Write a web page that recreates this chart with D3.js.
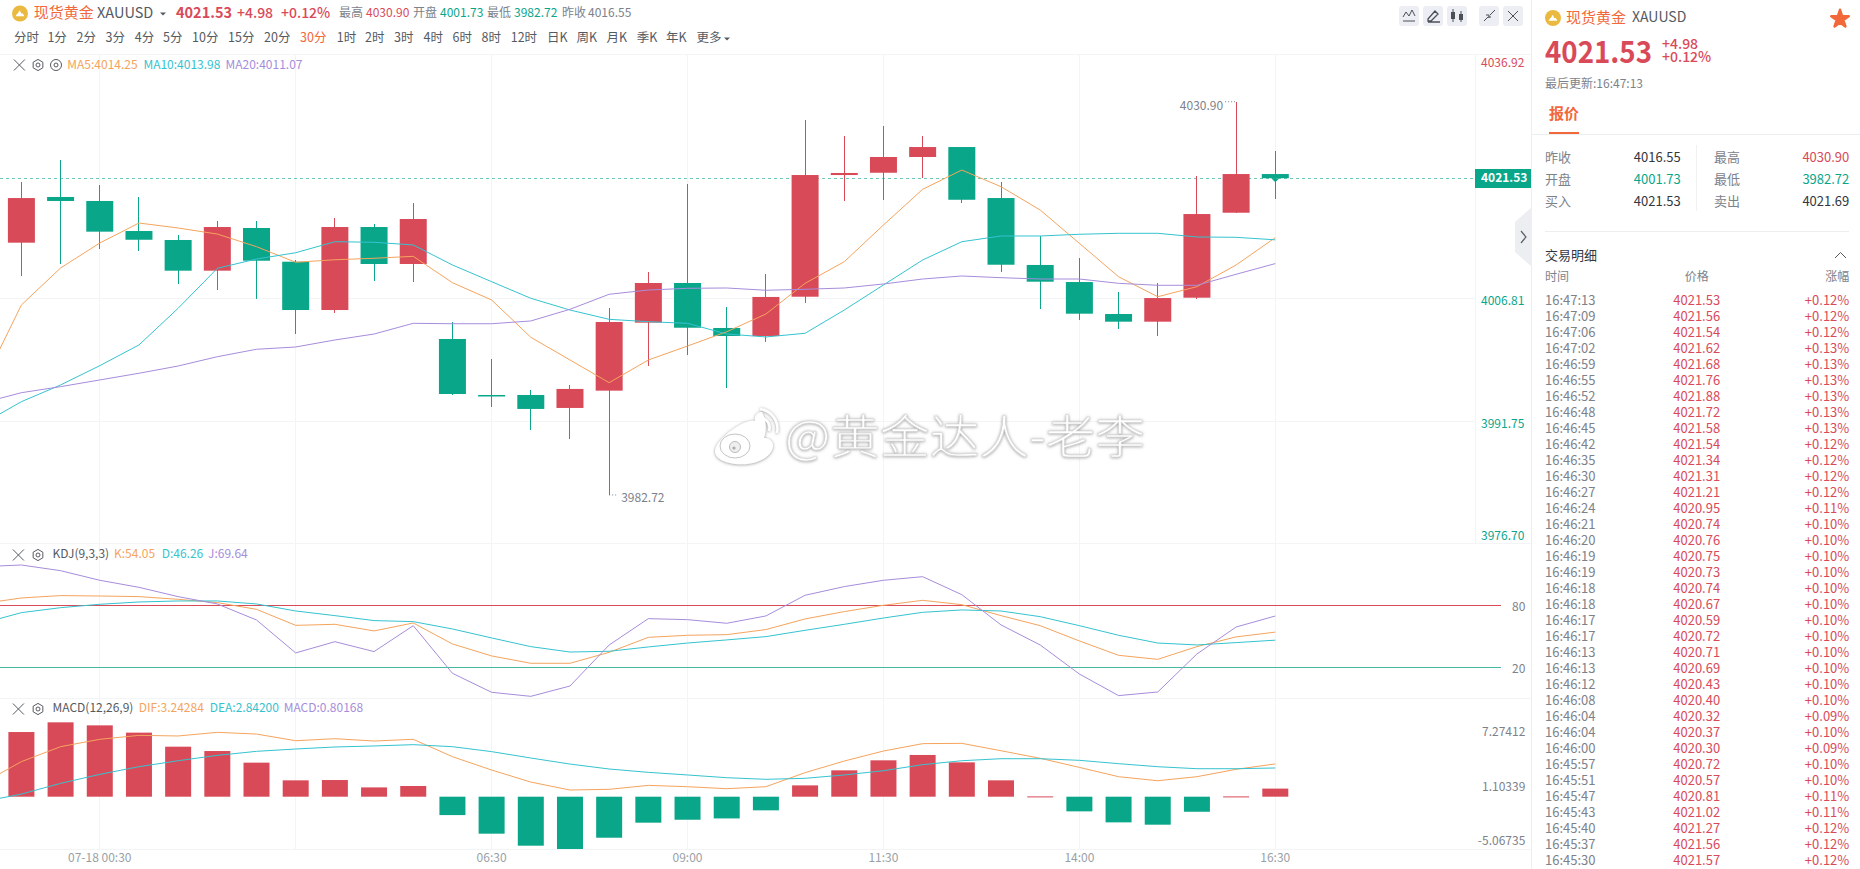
<!DOCTYPE html>
<html>
<head>
<meta charset="utf-8">
<script src="https://cdn.jsdelivr.net/npm/d3@7"></script>
<style>
  html, body { margin: 0; padding: 0; background: #fff; overflow: hidden; }
  text { font-family: "Noto Sans CJK SC", "Noto Sans", sans-serif; }
</style>
</head>
<body>
<script>
// candles, 30 min bars
var opens  = [4013.63,4019.23,4018.74,4015.06,4013.96,4010.20,4015.43,4011.30,4005.38,4015.55,4011.02,4001.83,3994.97,3994.97,3993.38,3995.50,4003.83,4008.69,4003.18,4002.20,4007.01,4021.92,4022.20,4024.13,4025.35,4019.10,4010.90,4008.81,4004.89,4003.95,4006.89,4017.30,4022.04];
var closes = [4019.10,4018.74,4014.98,4013.99,4010.20,4015.55,4011.42,4005.38,4015.55,4011.02,4016.53,3995.09,3994.79,3993.26,3995.71,4003.91,4008.69,4003.21,4002.20,4006.98,4021.92,4022.17,4024.13,4025.35,4018.89,4010.93,4008.85,4004.93,4003.95,4006.85,4017.14,4022.04,4021.53];
var highs  = [4021.03,4023.76,4020.66,4019.23,4014.61,4016.32,4016.32,4011.51,4016.62,4015.92,4018.53,4003.95,3999.38,3995.58,3996.20,4005.59,4010.04,4020.82,4005.79,4009.79,4028.66,4026.70,4027.92,4026.70,4025.35,4021.06,4014.45,4011.75,4007.59,4008.73,4021.80,4030.90,4024.86];
var lows   = [4009.55,4011.02,4012.86,4012.65,4008.57,4007.83,4006.77,4002.44,4005.05,4008.97,4008.85,3994.97,3993.54,3990.68,3989.62,3982.72,3998.52,3999.87,3995.86,4001.50,4006.28,4018.77,4018.86,4021.52,4018.53,4010.04,4005.51,4004.16,4003.02,4002.20,4006.73,4017.30,4019.02];

// the line arrays start one bar before the first candle (off screen)
var ma5  = [3996.20,4006.00,4010.53,4013.59,4016.04,4015.43,4014.69,4013.14,4011.23,4011.54,4011.72,4011.96,4008.73,4006.61,4002.04,3999.26,3996.48,3999.26,4000.97,4002.72,4004.89,4008.65,4011.30,4015.80,4020.17,4022.53,4020.49,4017.63,4013.55,4009.46,4007.01,4008.24,4010.90,4014.25];
var ma10 = [3991.42,3994.15,3996.20,3998.56,4001.10,4005.59,4010.49,4011.63,4012.40,4013.75,4013.68,4013.35,4010.90,4008.85,4006.82,4005.38,4004.24,4003.95,4003.75,4002.44,4002.08,4002.53,4005.38,4008.45,4011.51,4013.75,4014.45,4014.45,4014.66,4014.78,4014.78,4014.33,4014.29,4013.98];
var ma20 = [3993.99,3995.25,3995.99,3996.81,3997.63,3998.52,3999.66,4000.57,4000.85,4001.71,4002.44,4003.75,4003.70,4003.70,4004.04,4005.47,4007.31,4007.83,4008.04,4008.08,4007.80,4007.92,4008.08,4008.57,4009.18,4009.55,4009.34,4009.18,4009.18,4008.65,4008.41,4008.41,4009.76,4011.07];

var kLine = [81.6,87.1,89.4,89.0,88.4,85.8,82.6,76.1,60.6,61.6,55.2,62.9,42.6,31.0,23.9,23.9,34.5,49.0,51.0,51.6,56.5,66.8,73.9,80.0,84.8,80.6,70.0,60.3,45.5,31.6,27.7,40.0,49.4,54.05];
var dLine = [62.6,72.9,77.7,81.0,83.2,84.2,84.2,81.3,74.5,70.0,65.2,64.2,57.1,48.4,40.0,34.8,35.5,39.7,43.5,46.5,49.7,55.8,61.6,67.7,73.2,75.5,74.5,69.0,60.3,51.0,43.5,41.6,43.9,46.26];
var jLine = [117.4,119.0,113.5,104.2,97.4,88.4,81.3,65.8,33.9,44.8,35.2,60.3,14.2,-4.2,-8.1,1.9,41.6,67.1,66.1,62.6,69.7,89.7,98.1,104.2,107.7,90.3,61.0,41.6,13.5,-7.4,-3.9,32.9,59.0,69.64];

var macdBars = [6.40,7.36,7.06,6.34,4.95,4.52,3.37,1.62,1.65,0.92,1.06,-1.82,-3.66,-4.85,-5.18,-4.06,-2.57,-2.28,-2.15,-1.35,1.12,2.61,3.60,4.13,3.40,1.62,0.03,-1.45,-2.54,-2.77,-1.49,0.03,0.80168];
var dif = [1.32,3.47,4.95,5.68,6.07,6.01,6.37,6.20,5.54,5.74,5.51,5.68,3.96,2.64,1.45,0.66,0.73,1.12,0.99,0.79,0.99,2.38,3.53,4.52,5.25,5.28,4.55,3.80,2.90,1.98,1.58,1.98,2.71,3.24284];
var dea = [-0.50,0.26,1.32,2.21,2.97,3.56,4.09,4.49,4.72,4.92,5.02,5.15,4.95,4.46,3.83,3.23,2.74,2.41,2.15,1.88,1.72,1.82,2.15,2.57,3.17,3.56,3.76,3.76,3.60,3.27,2.97,2.77,2.77,2.842];

var priceTicks = [4036.92,4006.81,3991.75,3976.70];
var macdTicks = [7.27412,1.10339,-5.06735];
var kdjTicks = [80,20];
var timeIdx = [2,12,17,22,27,32];
var timeLabels = ["07-18 00:30","06:30","09:00","11:30","14:00","16:30"];
var gridIdx = [2,7,12,17,22,27,32];
var periods = ["分时","1分","2分","3分","4分","5分","10分","15分","20分","30分","1时","2时","3时","4时","6时","8时","12时","日K","周K","月K","季K","年K","更多"];
var periodX = [14,47.4,76.5,105.6,134.7,163,192,228,264,300,336.7,365,394,423.5,452.5,481.6,510.7,547,576.5,606.6,636.7,666,696.4];

var tickTimes = ["16:47:13","16:47:09","16:47:06","16:47:02","16:46:59","16:46:55","16:46:52","16:46:48","16:46:45","16:46:42","16:46:35","16:46:30","16:46:27","16:46:24","16:46:21","16:46:20","16:46:19","16:46:19","16:46:18","16:46:18","16:46:17","16:46:17","16:46:13","16:46:13","16:46:12","16:46:08","16:46:04","16:46:04","16:46:00","16:45:57","16:45:51","16:45:47","16:45:43","16:45:40","16:45:37","16:45:30"];
var tickPrices = ["4021.53","4021.56","4021.54","4021.62","4021.68","4021.76","4021.88","4021.72","4021.58","4021.54","4021.34","4021.31","4021.21","4020.95","4020.74","4020.76","4020.75","4020.73","4020.74","4020.67","4020.59","4020.72","4020.71","4020.69","4020.43","4020.40","4020.32","4020.37","4020.30","4020.72","4020.57","4020.81","4021.02","4021.27","4021.56","4021.57"];
var tickPcts = ["+0.12%","+0.12%","+0.12%","+0.13%","+0.13%","+0.13%","+0.13%","+0.13%","+0.13%","+0.12%","+0.12%","+0.12%","+0.12%","+0.11%","+0.10%","+0.10%","+0.10%","+0.10%","+0.10%","+0.10%","+0.10%","+0.10%","+0.10%","+0.10%","+0.10%","+0.10%","+0.09%","+0.10%","+0.09%","+0.10%","+0.10%","+0.11%","+0.11%","+0.12%","+0.12%","+0.12%"];

var RED = "#d94a59", GREEN = "#0aa68a", ORANGE = "#f5a45d", CYAN = "#35c3cf", PURPLE = "#a68ddb",
    GREY = "#7d828a", DARK = "#33373d", ACCENT = "#f2683a", GRID = "#f3f4f6";

var svg = d3.select("body").append("svg")
    .attr("width", 1860)
    .attr("height", 869)
    .style("display", "block");

var defs = svg.append("defs");
defs.append("clipPath").attr("id", "plot").append("rect")
    .attr("x", 0).attr("y", 54).attr("width", 1475).attr("height", 795);
var wm = defs.append("filter").attr("id", "wm").attr("x", "-10%").attr("y", "-20%").attr("width", "120%").attr("height", "140%");
wm.append("feDropShadow").attr("dx", 0).attr("dy", 0.5).attr("stdDeviation", 1.6)
    .attr("flood-color", "#777").attr("flood-opacity", 0.8);

// scales
var x = d3.scaleLinear().domain([0, 32]).range([21.4, 1275.3]);
var y = d3.scaleLinear().domain([3976.70, 4036.92]).range([544.1, 52.6]);
var yKdj = d3.scaleLinear().domain([20, 80]).range([667.3, 605.3]);
var yMacd = d3.scaleLinear().domain([-5.06735, 7.27412]).range([847.9, 723.2]);

function label(g, px, py, txt, size, color, anchor, weight) {
    return g.append("text")
        .attr("x", px).attr("y", py)
        .attr("dy", "0.35em")
        .attr("font-size", size)
        .attr("fill", color)
        .attr("text-anchor", anchor || "start")
        .attr("font-weight", weight || 400)
        .text(txt);
}

// grid and pane borders
var grid = svg.append("g").attr("stroke", GRID).attr("stroke-width", 1).attr("shape-rendering", "crispEdges");
grid.selectAll("line.v").data(gridIdx).enter().append("line")
    .attr("class", "v")
    .attr("x1", function(d) { return x(d); }).attr("x2", function(d) { return x(d); })
    .attr("y1", 54).attr("y2", 849);
[54.3, 543.3, 698.3, 849.3].forEach(function(py) {
    grid.append("line").attr("x1", 0).attr("x2", 1531).attr("y1", py).attr("y2", py);
});
[4006.81, 3991.75].forEach(function(v) {
    grid.append("line").attr("x1", 0).attr("x2", 1475).attr("y1", y(v)).attr("y2", y(v));
});
grid.append("line").attr("x1", 1475).attr("x2", 1475).attr("y1", 54).attr("y2", 543);

var plot = svg.append("g").attr("clip-path", "url(#plot)");

// current price dashed line
plot.append("line")
    .attr("x1", 0).attr("x2", 1475)
    .attr("y1", y(4021.53)).attr("y2", y(4021.53))
    .attr("stroke", GREEN).attr("stroke-opacity", 0.6)
    .attr("stroke-dasharray", "3,3")
    .attr("shape-rendering", "crispEdges");

// candles
var candles = plot.selectAll("g.candle").data(opens).enter().append("g").attr("class", "candle");
function candleColor(i) { return closes[i] >= opens[i] ? RED : GREEN; }
candles.append("line")
    .attr("x1", function(d, i) { return x(i); }).attr("x2", function(d, i) { return x(i); })
    .attr("y1", function(d, i) { return y(highs[i]); })
    .attr("y2", function(d, i) { return y(lows[i]); })
    .attr("stroke", function(d, i) { return candleColor(i); })
    .attr("shape-rendering", "crispEdges");
candles.append("rect")
    .attr("x", function(d, i) { return x(i) - 13.5; })
    .attr("width", 27)
    .attr("y", function(d, i) { return y(Math.max(opens[i], closes[i])); })
    .attr("height", function(d, i) { return Math.max(1.5, Math.abs(y(opens[i]) - y(closes[i]))); })
    .attr("fill", function(d, i) { return candleColor(i); });

// tiny price notch under the last candle
plot.append("path")
    .attr("d", d3.line()([[x(32) - 4, y(4021.53)], [x(32) + 4, y(4021.53)], [x(32), y(4021.53) + 4]]))
    .attr("fill", GREEN);

// lines are drawn from index -1
function drawLine(g, values, scale, color) {
    var line = d3.line()
        .x(function(d, i) { return x(i - 1); })
        .y(function(d) { return scale(d); });
    g.append("path")
        .attr("d", line(values))
        .attr("fill", "none")
        .attr("stroke", color)
        .attr("stroke-width", 1);
}
drawLine(plot, ma5, y, ORANGE);
drawLine(plot, ma10, y, CYAN);
drawLine(plot, ma20, y, PURPLE);

// high / low markers
plot.append("line").attr("x1", x(31) - 11).attr("x2", x(31)).attr("y1", y(4030.90)).attr("y2", y(4030.90))
    .attr("stroke", GREY).attr("stroke-dasharray", "1,2");
label(svg, x(31) - 13, y(4030.90) + 4, "4030.90", 12, GREY, "end");
plot.append("line").attr("x1", x(15)).attr("x2", x(15) + 9).attr("y1", y(3982.72)).attr("y2", y(3982.72))
    .attr("stroke", GREY).attr("stroke-dasharray", "1,2");
label(svg, x(15) + 12, y(3982.72) + 3, "3982.72", 12, GREY);

// KDJ pane
[[80, RED], [20, "#45b9a1"]].forEach(function(d) {
    plot.append("line").attr("x1", 0).attr("x2", 1475).attr("y1", yKdj(d[0])).attr("y2", yKdj(d[0]))
        .attr("stroke", d[1]).attr("shape-rendering", "crispEdges");
    svg.append("line").attr("x1", 1475).attr("x2", 1501).attr("y1", yKdj(d[0])).attr("y2", yKdj(d[0]))
        .attr("stroke", d[1]).attr("shape-rendering", "crispEdges");
});
drawLine(plot, kLine, yKdj, ORANGE);
drawLine(plot, dLine, yKdj, CYAN);
drawLine(plot, jLine, yKdj, PURPLE);

// MACD pane
plot.selectAll("rect.macd").data(macdBars).enter().append("rect")
    .attr("class", "macd")
    .attr("x", function(d, i) { return x(i) - 13; })
    .attr("width", 26)
    .attr("y", function(d) { return yMacd(Math.max(d, 0)); })
    .attr("height", function(d) { return Math.max(1, Math.abs(yMacd(d) - yMacd(0))); })
    .attr("fill", function(d) { return d >= 0 ? RED : GREEN; });
drawLine(plot, dif, yMacd, ORANGE);
drawLine(plot, dea, yMacd, CYAN);

// right side axis labels
priceTicks.forEach(function(v) {
    var py = Math.min(535.7, Math.max(62.7, y(v) + 2.4));
    label(svg, 1481, py, v.toFixed(2), 12, v > 4021.53 ? RED : GREEN);
});
svg.append("rect").attr("x", 1475).attr("y", 169).attr("width", 56).attr("height", 19).attr("fill", GREEN);
label(svg, 1481, y(4021.53), "4021.53", 12, "#fff", "start", 700);
kdjTicks.forEach(function(v) {
    label(svg, 1525.3, yKdj(v) + 1.3, v, 12, GREY, "end");
});
var macdOffsets = [8.5, 1.1, -7.2];
macdTicks.forEach(function(v, i) {
    label(svg, 1525.3, yMacd(v) + macdOffsets[i], v.toFixed(5), 12, GREY, "end");
});

// time axis
timeIdx.forEach(function(d, i) {
    label(svg, x(d), 858, timeLabels[i], 12, "#9a9fa6", "middle");
});

// little icons
function closeIcon(cx, cy, r) {
    svg.append("path")
        .attr("d", "M" + (cx - r) + "," + (cy - r) + "L" + (cx + r) + "," + (cy + r) + "M" + (cx - r) + "," + (cy + r) + "L" + (cx + r) + "," + (cy - r))
        .attr("stroke", "#555a61").attr("fill", "none");
}
function gearIcon(cx, cy) {
    var hex = d3.range(6).map(function(k) {
        var a = Math.PI / 3 * k + Math.PI / 6;
        return [cx + 5.6 * Math.cos(a), cy + 5.6 * Math.sin(a)];
    });
    svg.append("path").attr("d", d3.line()(hex) + "Z").attr("fill", "none").attr("stroke", "#555a61");
    svg.append("circle").attr("cx", cx).attr("cy", cy).attr("r", 2).attr("fill", "none").attr("stroke", "#555a61");
}
function eyeIcon(cx, cy) {
    svg.append("circle").attr("cx", cx).attr("cy", cy).attr("r", 5.5).attr("fill", "none").attr("stroke", "#555a61");
    svg.append("circle").attr("cx", cx).attr("cy", cy).attr("r", 2).attr("fill", "none").attr("stroke", "#555a61");
}
function goldIcon(cx, cy, r) {
    svg.append("circle").attr("cx", cx).attr("cy", cy).attr("r", r).attr("fill", "#eab93f");
    svg.append("path")
        .attr("d", "M" + (cx - r * 0.55) + "," + (cy + r * 0.35) + "h" + (r * 1.1) + "l-" + (r * 0.2) + ",-" + (r * 0.35) + "h-" + (r * 0.2) + "l-" + (r * 0.15) + ",-" + (r * 0.35) + "h-" + (r * 0.1) + "l-" + (r * 0.15) + "," + (r * 0.35) + "h-" + (r * 0.1) + "z")
        .attr("fill", "#fff");
}
function caret(cx, cy, color) {
    svg.append("path").attr("d", d3.line()([[cx - 3, cy - 1.5], [cx + 3, cy - 1.5], [cx, cy + 1.5]])).attr("fill", color);
}

// top header
goldIcon(20, 13.5, 8);
label(svg, 33.7, 13, "现货黄金", 15, ACCENT);
label(svg, 97, 13, "XAUUSD", 14.5, "#555a61");
caret(163, 14, "#555a61");
label(svg, 176, 13, "4021.53", 14.5, RED, "start", 700);
label(svg, 237, 13, "+4.98", 14, RED, "start", 500);
label(svg, 281, 13, "+0.12%", 14, RED, "start", 500);
var headStats = [["最高", 339, "4030.90", 366, RED], ["开盘", 413, "4001.73", 440, GREEN], ["最低", 487, "3982.72", 514, GREEN], ["昨收", 562, "4016.55", 588, GREY]];
headStats.forEach(function(d) {
    label(svg, d[1], 13, d[0], 12, GREY);
    label(svg, d[3], 13, d[2], 12, d[4]);
});

// period row
periods.forEach(function(p, i) {
    label(svg, periodX[i], 37.3, p, 12.5, p === "30分" ? ACCENT : "#555a61");
});
caret(727, 39, "#555a61");

// legends
closeIcon(19.4, 65, 5.5); gearIcon(38, 65); eyeIcon(56, 65);
label(svg, 67.3, 64.7, "MA5:4014.25", 12, ORANGE);
label(svg, 143.4, 64.7, "MA10:4013.98", 12, CYAN);
label(svg, 225.5, 64.7, "MA20:4011.07", 12, PURPLE);

closeIcon(18.4, 555, 5.5); gearIcon(38, 555);
label(svg, 52.5, 554, "KDJ(9,3,3)", 12, "#555a61");
label(svg, 114, 554, "K:54.05", 12, ORANGE);
label(svg, 161.7, 554, "D:46.26", 12, CYAN);
label(svg, 208, 554, "J:69.64", 12, PURPLE);

closeIcon(18.4, 709, 5.5); gearIcon(38, 709);
label(svg, 52.5, 707.7, "MACD(12,26,9)", 12, "#555a61");
label(svg, 138.8, 707.7, "DIF:3.24284", 12, ORANGE);
label(svg, 209.7, 707.7, "DEA:2.84200", 12, CYAN);
label(svg, 283.7, 707.7, "MACD:0.80168", 12, PURPLE);

// toolbar buttons
[1399, 1423, 1447, 1479, 1503].forEach(function(bx) {
    svg.append("rect").attr("x", bx).attr("y", 6).attr("width", 20).attr("height", 20).attr("rx", 3).attr("fill", "#eceef3");
});
svg.append("path").attr("d", "M1403,17l3,-5l3,4l3,-6l3,6M1403,21h12").attr("fill", "none").attr("stroke", "#4b5058");
svg.append("path").attr("d", "M1428,19l7,-8l3,3l-7,7h-3zM1428,22h12").attr("fill", "none").attr("stroke", "#4b5058").attr("stroke-width", 1.3);
svg.append("path").attr("d", "M1453,9v13M1461,11v11").attr("stroke", "#4b5058");
svg.append("rect").attr("x", 1451).attr("y", 12).attr("width", 4).attr("height", 7).attr("fill", "#4b5058");
svg.append("rect").attr("x", 1459).attr("y", 14).attr("width", 4).attr("height", 6).attr("fill", "#4b5058");
svg.append("path").attr("d", "M1484,21l4,-4M1490,15l5,-5M1486,15h3v3M1491,17h-3").attr("fill", "none").attr("stroke", "#4b5058");
svg.append("path").attr("d", "M1508,11l10,10M1508,21l10,-10").attr("stroke", "#4b5058");

// collapse tab
svg.append("path").attr("d", "M1532,207L1515,222V252L1532,267Z").attr("fill", "#eceef2");
svg.append("path").attr("d", "M1521,231l5,6l-5,6").attr("fill", "none").attr("stroke", "#5b6068").attr("stroke-width", 1.2);

// watermark
var mark = svg.append("g").attr("filter", "url(#wm)");
mark.append("text")
    .attr("x", 785).attr("y", 453)
    .attr("font-size", 46)
    .attr("font-weight", 300)
    .attr("fill", "#fff")
    .attr("stroke", "#d2d2d2")
    .attr("stroke-width", 0.5)
    .attr("textLength", 360)
    .attr("lengthAdjust", "spacingAndGlyphs")
    .text("@黄金达人-老李");
mark.append("path")
    .attr("d", "M762,412c-6,0 -8,6 -7,9c-10,-2 -30,12 -38,24c-6,10 2,17 18,19c20,2 36,-6 38,-17c1,-7 -6,-9 -9,-9c3,-9 2,-18 -2,-26z")
    .attr("fill", "#fff");
mark.append("ellipse").attr("cx", 735).attr("cy", 446).attr("rx", 15).attr("ry", 12).attr("fill", "#fff").attr("stroke", "#c4c4c4");
mark.append("circle").attr("cx", 735).attr("cy", 447).attr("r", 5.5).attr("fill", "#efefef").attr("stroke", "#bbb");
mark.append("circle").attr("cx", 734).attr("cy", 448).attr("r", 1.6).attr("fill", "#aaa");
mark.append("path").attr("d", "M760,409a20,20 0 0 1 17,24M762,418a10,10 0 0 1 7,13").attr("fill", "none").attr("stroke", "#fff").attr("stroke-width", 2.5);

// sidebar
svg.append("line").attr("x1", 1531.5).attr("x2", 1531.5).attr("y1", 0).attr("y2", 869).attr("stroke", "#eceef0");
goldIcon(1553, 18, 8);
label(svg, 1566, 17.5, "现货黄金", 15, ACCENT);
label(svg, 1632, 17.5, "XAUUSD", 14, "#555a61");
var star = d3.symbol().type(d3.symbolStar).size(95)();
svg.append("path").attr("d", star).attr("transform", "translate(1840,19)")
    .attr("fill", ACCENT).attr("stroke", ACCENT).attr("stroke-width", 2.5).attr("stroke-linejoin", "round");
label(svg, 1545, 52, "4021.53", 30, RED, "start", 700)
    .attr("textLength", 107)
    .attr("lengthAdjust", "spacingAndGlyphs");
label(svg, 1662, 44, "+4.98", 14, RED, "start", 500);
label(svg, 1662, 57.5, "+0.12%", 14, RED, "start", 500);
label(svg, 1545, 83.5, "最后更新:16:47:13", 12, GREY);
label(svg, 1549, 113.5, "报价", 15, ACCENT, "start", 700);
svg.append("rect").attr("x", 1549).attr("y", 132).attr("width", 30).attr("height", 2).attr("fill", ACCENT);
svg.append("line").attr("x1", 1532).attr("x2", 1860).attr("y1", 134.5).attr("y2", 134.5).attr("stroke", "#eceef0");

var statLabels = ["昨收", "开盘", "买入", "最高", "最低", "卖出"];
var statValues = ["4016.55", "4001.73", "4021.53", "4030.90", "3982.72", "4021.69"];
var statColors = [DARK, GREEN, DARK, RED, GREEN, DARK];
var statRows = [157, 179.5, 201.3];
statLabels.forEach(function(s, i) {
    var right = i > 2;
    label(svg, right ? 1714 : 1545, statRows[i % 3], s, 13, GREY);
    label(svg, right ? 1849.3 : 1680.7, statRows[i % 3], statValues[i], 13, statColors[i], "end");
});
svg.append("line").attr("x1", 1696.5).attr("x2", 1696.5).attr("y1", 145).attr("y2", 211).attr("stroke", "#f0f1f3");
svg.append("line").attr("x1", 1545).attr("x2", 1849).attr("y1", 231.5).attr("y2", 231.5).attr("stroke", "#eceef0");

label(svg, 1545, 255.7, "交易明细", 13, DARK);
svg.append("path").attr("d", "M1835,258l5.5,-5.5l5.5,5.5").attr("fill", "none").attr("stroke", "#555a61");
label(svg, 1545, 276.7, "时间", 12, GREY);
label(svg, 1696.7, 276.7, "价格", 12, GREY, "middle");
label(svg, 1849.3, 276.7, "涨幅", 12, GREY, "end");

var rowY = d3.scaleLinear().domain([0, 35]).range([300, 860]);
tickTimes.forEach(function(t, i) {
    label(svg, 1545, rowY(i), t, 13, GREY);
    label(svg, 1696.7, rowY(i), tickPrices[i], 13, RED, "middle");
    label(svg, 1849.3, rowY(i), tickPcts[i], 13, RED, "end");
});
</script>
</body>
</html>
